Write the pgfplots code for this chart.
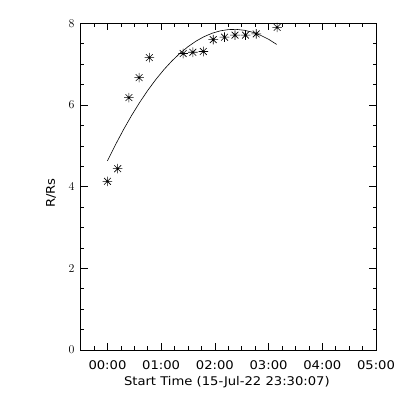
\documentclass[border=0pt]{standalone}
\usepackage{fontspec}
\setmainfont{DejaVu Sans}[FakeStretch=1.1]
\usepackage{pgfplots}
\pgfplotsset{compat=1.18}
\pgfdeclareplotmark{ast8}{%
 \pgfpathmoveto{\pgfqpoint{-\pgfplotmarksize}{0pt}}\pgfpathlineto{\pgfqpoint{\pgfplotmarksize}{0pt}}%
 \pgfpathmoveto{\pgfqpoint{0pt}{-\pgfplotmarksize}}\pgfpathlineto{\pgfqpoint{0pt}{\pgfplotmarksize}}%
 \pgfpathmoveto{\pgfqpoint{-0.707\pgfplotmarksize}{-0.707\pgfplotmarksize}}\pgfpathlineto{\pgfqpoint{0.707\pgfplotmarksize}{0.707\pgfplotmarksize}}%
 \pgfpathmoveto{\pgfqpoint{-0.707\pgfplotmarksize}{0.707\pgfplotmarksize}}\pgfpathlineto{\pgfqpoint{0.707\pgfplotmarksize}{-0.707\pgfplotmarksize}}%
 \pgfusepathqstroke}
\begin{document}
\begin{tikzpicture}
\useasboundingbox (0,0) rectangle (400bp,400bp);
\begin{axis}[
 at={(80.7bp,50bp)}, anchor=south west,
 scale only axis, width=295.3bp, height=326.7bp,
 xmin=-0.498, xmax=5, ymin=0, ymax=8,
 xtick={0,1,2,3,4,5},
 xticklabels={00:00,01:00,02:00,03:00,04:00,05:00},
 minor xtick={-0.25,0.25,0.5,0.75,1.25,1.5,1.75,2.25,2.5,2.75,3.25,3.5,3.75,4.25,4.5,4.75},
 ytick={0,2,4,6,8},
 minor ytick={0.5,1,1.5,2.5,3,3.5,4.5,5,5.5,6.5,7,7.5},
 tick align=inside,
 major tick length=7bp, minor tick length=3.5bp,
 axis line style={line width=0.7bp},
 tick style={black, line width=0.6bp},
 tick label style={font=\fontsize{12}{14}\selectfont},
 label style={font=\fontsize{12}{14}\selectfont},
 xticklabel style={yshift=-7.3bp},
 yticklabel style={xshift=-2.7bp},
 xlabel={Start Time (15-Jul-22 23:30:07)},
 ylabel={R/Rs},
 xlabel style={at={(axis description cs:0.495,-0.097)}, anchor=center},
 ylabel style={at={(axis description cs:-0.1,0.48)}, anchor=center},
]
\addplot[only marks, mark=ast8, mark size=4.8bp, line width=0.6bp] coordinates {
(0.00,4.13) (0.19,4.44) (0.40,6.18) (0.59,6.67) (0.78,7.16)
(1.41,7.26) (1.59,7.29) (1.785,7.31) (1.97,7.60) (2.18,7.66)
(2.375,7.71) (2.57,7.71) (2.77,7.74) (3.16,7.90)
};
\addplot[line width=0.6bp] coordinates {
(0.00,4.630) (0.15,5.028) (0.30,5.399) (0.45,5.744) (0.60,6.063)
(0.75,6.356) (0.90,6.623) (1.05,6.864) (1.20,7.078) (1.35,7.266)
(1.50,7.428) (1.65,7.564) (1.80,7.674) (1.95,7.757) (2.10,7.815)
(2.25,7.846) (2.40,7.851) (2.55,7.829) (2.70,7.782) (2.85,7.708)
(3.00,7.609) (3.15,7.483)
};
\end{axis}
\end{tikzpicture}
\end{document}
